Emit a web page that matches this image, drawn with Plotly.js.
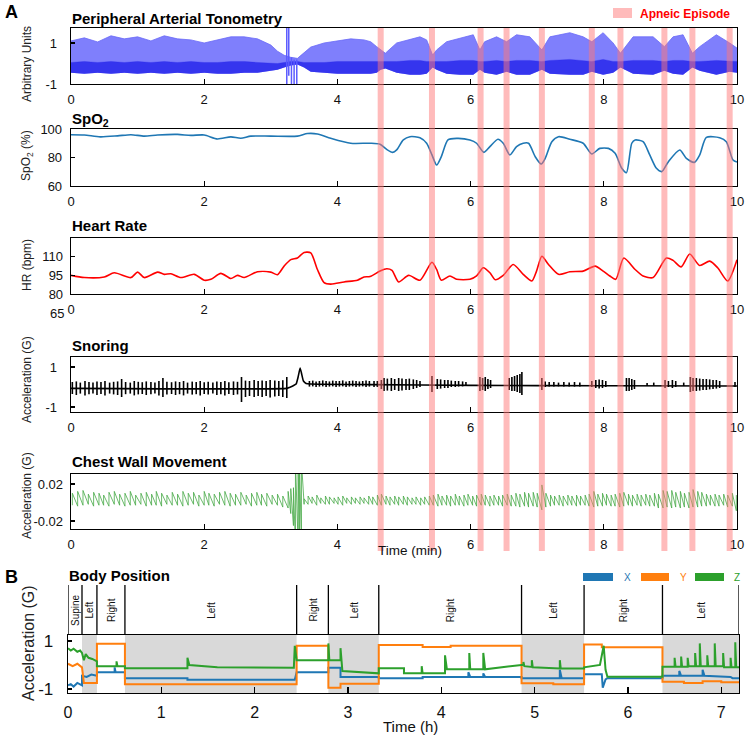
<!DOCTYPE html>
<html><head><meta charset="utf-8">
<script src="https://cdn.plot.ly/plotly-3.0.1.min.js"></script>
<style>html,body{margin:0;padding:0;background:#fff}#c{width:745px;height:736px}</style>
</head><body><div id="c"></div>
<script>
// ---------------- DATA ----------------
// Peripheral Arterial Tonometry: upper envelope, top of dense core, lower envelope (arbitrary units) vs time (min)
const patT  = [0,0.2,0.4,0.6,0.8,1.0,1.2,1.4,1.6,1.8,2.0,2.2,2.4,2.6,2.8,3.0,3.1,3.2,3.3,3.4,3.5,3.6,3.8,4.0,4.2,4.4,4.5,4.59,4.65,4.72,4.89,5.09,5.24,5.34,5.43,5.49,5.64,5.84,6.04,6.14,6.21,6.39,6.54,6.69,6.89,7.07,7.19,7.49,7.69,7.82,7.99,8.14,8.25,8.44,8.74,8.91,9.04,9.19,9.33,9.44,9.69,9.89,10];
const patHi = [1.1,1.25,1.05,1.35,1.2,1.3,1.1,1.35,1.2,1.15,1.0,1.15,1.3,1.3,1.2,0.9,0.6,0.4,0.3,0.25,0.55,0.8,1.0,1.1,1.2,1.15,1.06,0.82,0.66,0.5,1.0,1.18,1.3,1.15,0.41,0.66,1.06,1.23,1.4,0.66,1.06,1.3,1.06,1.4,1.3,0.66,1.3,1.5,1.3,1.06,1.5,1.0,0.5,1.3,1.3,0.82,1.3,1.4,0.5,0.82,1.4,1.0,0.75];
const patMid = [0.05,0.1,0.05,0.1,0.05,0.1,0.05,0.1,0.05,0.1,0.05,0.05,0.1,0.1,0.05,0.0,0.0,0.05,0.1,0.1,0.05,0.05,0.05,0.1,0.1,0.1,0.1,0.1,0.1,0.1,0.1,0.15,0.15,0.1,0.1,0.1,0.1,0.15,0.15,0.1,0.1,0.15,0.1,0.15,0.15,0.1,0.15,0.2,0.15,0.1,0.2,0.1,0.1,0.15,0.15,0.1,0.15,0.15,0.1,0.1,0.15,0.1,0.1];
const patLo = [-0.45,-0.5,-0.45,-0.5,-0.45,-0.5,-0.45,-0.5,-0.45,-0.5,-0.45,-0.5,-0.5,-0.45,-0.45,-0.35,-0.3,-0.2,-0.1,-0.05,-0.2,-0.4,-0.45,-0.5,-0.5,-0.5,-0.5,-0.45,-0.3,-0.25,-0.45,-0.55,-0.55,-0.5,-0.2,-0.3,-0.5,-0.55,-0.55,-0.3,-0.45,-0.55,-0.4,-0.55,-0.55,-0.3,-0.5,-0.55,-0.55,-0.4,-0.55,-0.45,-0.2,-0.5,-0.55,-0.35,-0.5,-0.55,-0.2,-0.35,-0.55,-0.4,-0.45];
// PAT movement artefact strokes
const patArtT  = [3.24,3.27,3.31,3.35,3.39];
const patArtHi = [1.8,1.8,0.3,0.2,0.2];
const patArtLo = [-1.3,-0.6,-1.3,-1.3,-1.2];

// SpO2 (%)
const spoT = [0,0.2,0.44,0.7,0.9,1.1,1.3,1.6,1.8,2.0,2.2,2.4,2.55,2.7,3.0,3.4,3.55,3.7,3.9,4.2,4.49,4.64,4.74,4.83,4.89,4.99,5.09,5.24,5.34,5.42,5.49,5.56,5.66,5.79,5.99,6.09,6.20,6.29,6.41,6.49,6.59,6.69,6.79,6.87,6.97,7.06,7.12,7.22,7.32,7.49,7.69,7.82,7.94,8.07,8.17,8.27,8.34,8.42,8.47,8.59,8.69,8.79,8.87,8.97,9.14,9.24,9.36,9.44,9.54,9.74,9.84,9.94,10];
const spoV = [96,95.8,94.5,95.2,96,95,95.8,96.2,95.5,95.8,93,94.5,93.5,95,95,95,96.8,96.5,93.5,90,90,89.3,85.7,83.6,85.3,92.3,94.6,93.9,90,81.8,74.7,80.6,92.3,93.4,92.3,90,83.6,87.6,92.8,90,81.8,87.6,90,90,80.6,75.4,79.4,91.1,94.6,92.8,90,82.5,86.4,86.4,82.9,72.4,69.3,90,92.3,91.1,81.8,72.4,70.1,77.1,85.3,79.4,76.6,81.8,94.1,93.9,91.1,78.2,76.8];

// Heart rate (bpm)
const hrT = [0,0.2,0.5,0.65,0.9,1.0,1.1,1.3,1.4,1.5,1.65,1.85,2.0,2.1,2.25,2.4,2.5,2.6,2.8,3.0,3.1,3.2,3.3,3.4,3.5,3.6,3.7,3.8,3.9,4.1,4.3,4.4,4.49,4.64,4.74,4.82,4.92,5.07,5.24,5.42,5.49,5.56,5.69,5.79,5.99,6.09,6.19,6.29,6.37,6.49,6.64,6.79,6.92,6.99,7.07,7.17,7.32,7.49,7.69,7.87,7.99,8.09,8.18,8.30,8.47,8.59,8.74,8.94,9.04,9.16,9.29,9.44,9.59,9.71,9.86,10];
const hrV = [95,93.2,93.7,97.1,93.2,97.6,93.2,97.6,95.8,96.3,93.2,95.8,91.1,91.8,96.6,92.5,95,93.2,97.9,97.6,95.5,102.4,107.6,108.9,113.4,113,99.7,89.2,87.9,89.7,91.1,93.7,94,98.4,100.3,99,89.7,95,91.1,105.5,99.7,91.1,94.5,91.8,91.8,94.5,101.1,97.1,91.5,95,103.7,95.8,90.5,98.4,110.3,103.7,95.8,97.9,98.4,102.4,98.4,94.5,91.8,108.9,99.7,94.5,93.2,108.9,107,101.8,112.1,102.9,106.4,101.1,90.5,107.6];

// Snoring (G): baseline and burst strokes
const snoreBaseT = [0,3.24,3.28,3.33,3.38,3.41,3.44,3.46,3.49,3.53,3.6,4.5,6,8,10];
const snoreBaseV = [-0.07,-0.07,-0.02,0.05,0.15,0.5,0.95,0.7,0.3,0.18,0.15,0.12,0.08,0.06,0.05];
const snoreT  = [0.02,0.08,0.14,0.21,0.27,0.33,0.39,0.45,0.51,0.58,0.64,0.70,0.76,0.82,0.89,0.95,1.01,1.07,1.13,1.20,1.26,1.32,1.38,1.44,1.51,1.57,1.63,1.69,1.75,1.82,1.88,1.94,2.00,2.06,2.13,2.19,2.25,2.31,2.37,2.44,2.50,2.56,2.62,2.68,2.75,2.81,2.87,2.93,2.99,3.06,3.12,3.18,3.24,
  3.58,3.63,3.68,3.73,3.78,3.83,3.88,3.93,3.98,4.03,4.08,4.13,4.18,4.23,4.28,4.33,4.38,4.43,4.48,4.55,4.60,4.66,4.70,4.75,4.81,4.86,4.92,4.97,5.03,5.08,5.14,5.19,5.24,5.42,5.50,5.55,5.61,5.66,5.71,5.77,5.82,5.88,5.93,6.14,6.18,6.22,6.26,6.30,6.58,6.62,6.66,6.70,6.74,6.77,7.07,7.12,7.18,7.25,7.32,7.40,7.48,7.56,7.64,7.82,7.88,7.93,7.98,8.03,8.34,8.38,8.42,8.46,8.65,8.75,8.92,8.97,9.03,9.08,9.20,9.30,9.34,9.39,9.44,9.49,9.54,9.59,9.64,9.69,9.74,9.97];
const snoreHi = [0.25,0.28,0.22,0.3,0.25,0.22,0.28,0.25,0.3,0.22,0.26,0.28,0.4,0.25,0.22,0.3,0.26,0.24,0.28,0.25,0.22,0.3,0.45,0.26,0.24,0.28,0.25,0.3,0.22,0.27,0.25,0.3,0.24,0.26,0.22,0.28,0.25,0.3,0.24,0.28,0.26,0.5,0.32,0.3,0.35,0.3,0.33,0.3,0.35,0.32,0.3,0.34,0.5,
  0.3,0.32,0.28,0.3,0.33,0.3,0.28,0.32,0.3,0.3,0.33,0.28,0.3,0.32,0.3,0.28,0.3,0.32,0.3,0.3,0.3,0.35,0.45,0.42,0.45,0.4,0.45,0.42,0.4,0.42,0.38,0.35,0.3,0.55,0.4,0.38,0.35,0.35,0.32,0.3,0.3,0.28,0.25,0.5,0.45,0.5,0.4,0.35,0.45,0.5,0.55,0.6,0.65,0.75,0.45,0.28,0.25,0.25,0.22,0.25,0.22,0.25,0.22,0.3,0.35,0.38,0.35,0.3,0.45,0.45,0.4,0.35,0.2,0.22,0.35,0.3,0.35,0.3,0.22,0.5,0.45,0.45,0.42,0.4,0.4,0.38,0.35,0.35,0.3,0.25];
const snoreLo = [-0.35,-0.4,-0.33,-0.42,-0.36,-0.33,-0.4,-0.35,-0.42,-0.33,-0.37,-0.4,-0.5,-0.36,-0.33,-0.42,-0.37,-0.35,-0.4,-0.36,-0.33,-0.42,-0.5,-0.37,-0.35,-0.4,-0.36,-0.42,-0.33,-0.38,-0.36,-0.42,-0.35,-0.37,-0.33,-0.4,-0.36,-0.42,-0.35,-0.4,-0.37,-0.75,-0.5,-0.45,-0.5,-0.45,-0.5,-0.45,-0.52,-0.48,-0.45,-0.5,-0.55,
  0.02,0.03,0.0,0.02,0.03,0.0,0.02,0.03,0.0,0.02,0.03,0.0,0.02,0.03,0.0,0.02,0.03,0.0,0.02,0.0,0.0,-0.1,-0.2,-0.18,-0.2,-0.15,-0.2,-0.18,-0.15,-0.15,-0.1,-0.05,0.0,-0.25,-0.1,-0.08,-0.05,-0.05,0,0,0.02,0.03,0.05,-0.2,-0.15,-0.2,-0.1,-0.05,-0.15,-0.2,-0.2,-0.25,-0.3,-0.4,-0.15,0.0,0.02,0.02,0.03,0.02,0.03,0.02,0.03,0.0,-0.05,-0.08,-0.05,0.0,-0.2,-0.2,-0.15,-0.1,0.05,0.05,-0.05,0,-0.05,0,0.05,-0.25,-0.2,-0.2,-0.18,-0.15,-0.15,-0.12,-0.1,-0.08,-0.05,0.0];

// Chest wall movement (G): per-breath peak / trough
const chestT = [0.02,0.10,0.18,0.26,0.34,0.42,0.49,0.57,0.65,0.73,0.81,0.89,0.97,1.05,1.13,1.21,1.28,1.36,1.44,1.52,1.60,1.68,1.76,1.84,1.92,2.00,2.07,2.15,2.23,2.31,2.39,2.47,2.55,2.63,2.71,2.79,2.86,2.94,3.02,3.10,3.18,3.26,
  3.30,3.34,3.37,3.41,3.43,3.46,3.50,
  3.56,3.62,3.69,3.75,3.82,3.88,3.95,4.01,4.08,4.14,4.21,4.27,4.34,4.40,4.47,
  4.53,4.60,4.66,4.73,4.79,4.86,4.92,4.99,5.05,5.12,5.18,5.25,5.31,5.38,5.44,5.51,5.57,5.64,5.70,5.77,5.83,5.90,5.96,6.03,6.09,6.16,6.22,6.29,6.35,6.42,6.48,6.55,6.61,6.68,6.74,6.81,6.87,6.94,7.00,7.07,7.13,7.20,7.26,7.33,7.39,7.46,7.52,7.59,7.65,7.72,7.78,7.85,7.91,7.98,8.04,8.11,8.17,8.24,8.30,8.37,8.43,8.50,8.56,8.63,8.69,8.76,8.82,8.89,8.95,9.02,9.08,9.15,9.21,9.28,9.34,9.41,9.47,9.54,9.60,9.67,9.73,9.80,9.86,9.93,9.99];
const chestHi = [0.010,0.012,0.013,0.009,0.011,0.010,0.008,0.011,0.012,0.009,0.010,0.012,0.008,0.010,0.011,0.009,0.012,0.010,0.008,0.011,0.009,0.012,0.010,0.011,0.008,0.012,0.010,0.009,0.011,0.012,0.010,0.009,0.011,0.008,0.010,0.011,0.009,0.010,0.008,0.009,0.007,0.012,
  0.015,0.016,0.045,0.045,0.045,0.045,0.004,
  0.007,0.006,0.008,0.005,0.007,0.006,0.005,0.006,0.007,0.005,0.006,0.005,0.006,0.005,0.007,
  0.006,0.008,0.009,0.007,0.006,0.007,0.006,0.007,0.006,0.005,0.006,0.005,0.006,0.007,0.008,0.009,0.007,0.008,0.007,0.009,0.007,0.008,0.009,0.007,0.008,0.009,0.008,0.007,0.008,0.007,0.008,0.009,0.008,0.010,0.009,0.011,0.010,0.011,0.010,0.019,0.010,0.008,0.007,0.008,0.007,0.008,0.007,0.008,0.007,0.008,0.009,0.012,0.009,0.010,0.009,0.008,0.009,0.010,0.011,0.009,0.008,0.009,0.008,0.009,0.008,0.010,0.009,0.013,0.012,0.013,0.011,0.012,0.010,0.011,0.014,0.012,0.011,0.009,0.008,0.009,0.008,0.009,0.008,0.010,0.008];
const chestLo = [-0.003,-0.004,-0.003,-0.002,-0.004,-0.003,-0.003,-0.004,-0.002,-0.003,-0.004,-0.003,-0.003,-0.002,-0.004,-0.003,-0.003,-0.004,-0.002,-0.003,-0.003,-0.004,-0.003,-0.002,-0.004,-0.003,-0.003,-0.004,-0.002,-0.003,-0.004,-0.003,-0.003,-0.002,-0.004,-0.003,-0.003,-0.004,-0.002,-0.003,-0.005,-0.006,
  -0.012,-0.025,-0.045,-0.045,-0.045,-0.045,-0.002,
  -0.002,-0.001,-0.003,-0.001,-0.002,-0.002,-0.001,-0.002,-0.003,-0.001,-0.002,-0.001,-0.002,-0.001,-0.002,
  -0.002,-0.003,-0.003,-0.002,-0.003,-0.002,-0.003,-0.002,-0.003,-0.002,-0.002,-0.003,-0.002,-0.003,-0.003,-0.004,-0.003,-0.003,-0.004,-0.003,-0.003,-0.004,-0.003,-0.003,-0.004,-0.003,-0.003,-0.004,-0.003,-0.003,-0.004,-0.003,-0.004,-0.004,-0.005,-0.004,-0.005,-0.004,-0.005,-0.008,-0.005,-0.004,-0.003,-0.003,-0.004,-0.003,-0.003,-0.004,-0.003,-0.003,-0.004,-0.005,-0.004,-0.004,-0.003,-0.004,-0.004,-0.005,-0.004,-0.003,-0.004,-0.003,-0.004,-0.003,-0.004,-0.004,-0.006,-0.006,-0.005,-0.006,-0.005,-0.006,-0.005,-0.006,-0.005,-0.005,-0.004,-0.004,-0.003,-0.004,-0.004,-0.003,-0.005,-0.004,-0.009];

// Apneic episodes (centre time, min)
const apneaT = [4.65,5.42,6.15,6.54,7.07,7.82,8.25,8.91,9.33,9.89];
const apneaHalfWidth = 0.045;

// Body position (time in hours, acceleration in G)
const bxT = [0,0.03,0.06,0.1,0.15,0.15,0.2,0.25,0.31,0.31,0.5,0.5,0.51,0.61,0.61,1.28,1.28,2.43,2.45,2.79,2.79,2.92,2.92,3.33,3.33,3.8,3.8,4.29,4.29,4.31,4.45,4.45,4.47,4.86,4.86,5.27,5.27,5.29,5.53,5.53,5.72,5.73,5.76,5.78,6.37,6.37,6.55,6.55,6.57,6.8,6.8,6.82,7.1,7.12,7.19];
const bxV = [-0.85,-0.8,-0.9,-0.75,-0.85,-0.45,-0.5,-0.4,-0.45,-0.3,-0.3,-0.1,-0.3,-0.3,-0.55,-0.55,-0.62,-0.62,-0.3,-0.3,-0.12,-0.12,-0.5,-0.5,-0.55,-0.55,-0.5,-0.5,-0.3,-0.5,-0.5,-0.35,-0.5,-0.5,-0.55,-0.55,-0.2,-0.55,-0.55,-0.39,-0.39,-0.95,-0.6,-0.55,-0.55,-0.45,-0.45,-0.25,-0.45,-0.45,-0.2,-0.45,-0.5,-0.55,-0.55];
const byT = [0,0.05,0.1,0.15,0.17,0.31,0.31,0.61,0.61,2.45,2.45,2.79,2.79,2.92,2.92,3.33,3.33,3.8,3.8,4.1,4.1,4.86,4.86,5.2,5.2,5.53,5.53,5.72,5.72,6.37,6.37,6.6,6.6,6.8,6.8,7.0,7.0,7.19];
const byV = [0.05,-0.05,0.05,-0.1,-0.75,-0.75,0.88,0.88,-0.8,-0.8,0.8,0.8,-0.95,-0.95,-0.78,-0.78,0.83,0.83,0.75,0.75,0.8,0.8,-0.76,-0.76,-0.8,-0.8,0.85,0.85,0.74,0.74,-0.7,-0.7,-0.75,-0.75,-0.68,-0.68,-0.72,-0.72];
const bzT = [0,0.03,0.06,0.1,0.13,0.15,0.17,0.19,0.22,0.26,0.31,0.31,0.52,0.52,0.53,0.61,0.61,1.28,1.28,1.3,1.6,2.42,2.43,2.45,2.79,2.79,2.8,2.92,2.92,2.94,3.33,3.33,3.6,3.6,3.79,3.79,3.8,4.04,4.04,4.06,4.3,4.3,4.31,4.45,4.45,4.47,4.86,4.88,4.88,4.89,4.97,4.97,4.98,5.27,5.27,5.28,5.53,5.53,5.7,5.74,5.76,5.78,6.37,6.37,6.5,6.5,6.51,6.57,6.57,6.58,6.64,6.64,6.65,6.72,6.72,6.73,6.77,6.77,6.78,6.85,6.85,6.86,6.93,6.93,6.94,7.02,7.02,7.03,7.1,7.1,7.11,7.15,7.15,7.16,7.19];
const bzV = [0.7,0.6,0.68,0.55,0.6,0.5,0.2,0.45,0.3,0.25,0.15,-0.05,-0.05,0.15,-0.05,-0.05,-0.14,-0.14,0.3,0.0,-0.1,-0.12,0.8,0.2,0.2,0.9,0.2,0.2,0.7,-0.25,-0.35,-0.14,-0.14,-0.35,-0.35,-0.05,-0.35,-0.35,0.4,-0.18,-0.18,0.5,-0.18,-0.18,0.5,-0.18,0.0,0.0,0.12,-0.05,-0.08,0.2,-0.1,-0.15,0.2,-0.15,-0.15,-0.1,0.0,0.8,-0.2,-0.49,-0.49,-0.07,-0.07,0.3,-0.07,-0.07,0.35,-0.07,-0.07,0.3,-0.05,-0.05,0.5,-0.05,-0.05,0.9,-0.05,-0.05,0.4,-0.05,-0.05,0.9,-0.05,-0.05,0.5,-0.1,-0.1,0.3,-0.1,-0.1,0.95,-0.1,-0.1];
// Position segments (h)
const posStart = [0,0.15,0.31,0.61,2.45,2.79,3.33,4.86,5.53,6.37];
const posEnd   = [0.15,0.31,0.61,2.45,2.79,3.33,4.86,5.53,6.37,7.19];
const posName  = ["Supine","Left","Right","Left","Right","Left","Right","Left","Right","Left"];

const ticksMin = [0,2,4,6,8,10];
const ticksHour = [0,1,2,3,4,5,6,7];

// ---------------- DRAWING ----------------
const F = "Liberation Sans, Arial, Helvetica, sans-serif";
const W = 745, H = 736;
const px = x => x / W, py = y => 1 - y / H;

function strokes(t, lo, hi) {
  const x = [], y = [];
  const n = Math.min(t.length, lo.length, hi.length);
  for (let i = 0; i < n; i++) { x.push(t[i], t[i], null); y.push(lo[i], hi[i], null); }
  return {x, y};
}
function sawtooth(t, lo, hi) {
  const x = [], y = [];
  const n = Math.min(t.length, lo.length, hi.length);
  for (let i = 0; i < n; i++) { x.push(t[i], t[i]); y.push(lo[i], hi[i]); }
  return {x, y};
}

const traces = [];
// PAT
traces.push({x: patT, y: patLo, xaxis: 'x', yaxis: 'y', mode: 'lines', line: {color: 'rgba(0,0,0,0)', width: 0}, hoverinfo: 'skip'});
traces.push({x: patT, y: patHi, xaxis: 'x', yaxis: 'y', mode: 'lines', fill: 'tonexty', fillcolor: 'rgba(105,105,252,0.85)', line: {color: '#6a6af8', width: 0.8}});
traces.push({x: patT, y: patLo, xaxis: 'x', yaxis: 'y', mode: 'lines', line: {color: 'rgba(0,0,0,0)', width: 0}, hoverinfo: 'skip'});
traces.push({x: patT, y: patMid, xaxis: 'x', yaxis: 'y', mode: 'lines', fill: 'tonexty', fillcolor: 'rgba(40,40,235,0.85)', line: {color: 'rgba(40,40,235,0.5)', width: 0.6}});
const art = strokes(patArtT, patArtLo, patArtHi);
traces.push({x: art.x, y: art.y, xaxis: 'x', yaxis: 'y', mode: 'lines', line: {color: '#5a5aff', width: 1.5}});
// SpO2
traces.push({x: spoT, y: spoV, xaxis: 'x2', yaxis: 'y2', mode: 'lines', line: {color: '#1f77b4', width: 1.6, shape: 'spline', smoothing: 0.7}});
// HR
traces.push({x: hrT, y: hrV, xaxis: 'x3', yaxis: 'y3', mode: 'lines', line: {color: '#ff0000', width: 1.6, shape: 'spline', smoothing: 0.7}});
// Snoring
traces.push({x: snoreBaseT, y: snoreBaseV, xaxis: 'x4', yaxis: 'y4', mode: 'lines', line: {color: '#000', width: 1.6, shape: 'spline', smoothing: 0.4}});
const sn = strokes(snoreT, snoreLo, snoreHi);
traces.push({x: sn.x, y: sn.y, xaxis: 'x4', yaxis: 'y4', mode: 'lines', line: {color: '#000', width: 1.6}});
// Chest wall
const cw = sawtooth(chestT, chestLo, chestHi);
traces.push({x: cw.x, y: cw.y, xaxis: 'x5', yaxis: 'y5', mode: 'lines', line: {color: '#45a845', width: 0.8}});
// Body position
traces.push({x: bxT, y: bxV, xaxis: 'x6', yaxis: 'y6', mode: 'lines', line: {color: '#1f77b4', width: 2}});
traces.push({x: byT, y: byV, xaxis: 'x6', yaxis: 'y6', mode: 'lines', line: {color: '#ff7f0e', width: 2}});
traces.push({x: bzT, y: bzV, xaxis: 'x6', yaxis: 'y6', mode: 'lines', line: {color: '#2ca02c', width: 2}});

function xax(dom, range, anchor, tv, size, standoff, tl) {
  return {domain: dom, range: range, anchor: anchor, tickvals: tv, ticktext: tv.map(String),
    ticks: 'inside', ticklen: tl, tickwidth: 1.3, tickcolor: '#000', showline: true, mirror: true,
    linecolor: '#000', linewidth: 1.3, showgrid: false, zeroline: false, fixedrange: true,
    tickfont: {family: F, size: size, color: '#111'}, ticklabelstandoff: standoff};
}
function yax(dom, range, anchor, tv, tt, size, standoff) {
  return {domain: dom, range: range, anchor: anchor, tickvals: tv, ticktext: tt,
    ticks: 'inside', ticklen: 4, tickwidth: 1.3, tickcolor: '#000', showline: true, mirror: true,
    linecolor: '#000', linewidth: 1.3, showgrid: false, zeroline: false, fixedrange: true,
    tickfont: {family: F, size: size, color: '#111'}, ticklabelstandoff: standoff};
}
const domA = [px(71), px(737)], domB = [px(68), px(739)];

const layout = {
  width: W, height: H, margin: {l: 0, r: 0, t: 0, b: 0},
  paper_bgcolor: '#fff', plot_bgcolor: 'rgba(0,0,0,0)', showlegend: false,
  font: {family: F, color: '#111'},
  xaxis:  xax(domA, [0, 10], 'y',  ticksMin, 13, 3, 5),
  xaxis2: xax(domA, [0, 10], 'y2', ticksMin, 13, 3, 5),
  xaxis3: xax(domA, [0, 10], 'y3', ticksMin, 13, 3, 5),
  xaxis4: xax(domA, [0, 10], 'y4', ticksMin, 13, 3, 5),
  xaxis5: xax(domA, [0, 10], 'y5', ticksMin, 13, 3, 5),
  xaxis6: xax(domB, [0, 7.19], 'y6', ticksHour, 16, 4, 6),
  yaxis:  yax([py(84), py(28)], [-1, 1.73], 'x', [-1, 1], ['-1', '1'], 13, 10),
  yaxis2: yax([py(186), py(129)], [60, 100], 'x2', [60, 80, 100], ['60', '80', '100'], 13, 5),
  yaxis3: yax([py(294), py(238)], [80, 125], 'x3', [80, 95, 110], ['80', '95', '110'], 13, 4),
  yaxis4: yax([py(412), py(357)], [-1.25, 1.5], 'x4', [-1, 1], ['-1', '1'], 13, 10),
  yaxis5: yax([py(529), py(474)], [-0.0287, 0.0308], 'x5', [-0.02, 0.02], ['-0.02', '0.02'], 13, 4),
  yaxis6: yax([py(693), py(635)], [-1.17, 1.25], 'x6', [-1, 1], ['-1', '1'], 17, 10),
  shapes: [], annotations: []
};

// apneic bands
apneaT.forEach(t => layout.shapes.push({type: 'rect', xref: 'x', yref: 'paper',
  x0: t - apneaHalfWidth, x1: t + apneaHalfWidth, y0: py(551), y1: py(28),
  fillcolor: 'rgba(255,120,120,0.5)', line: {width: 0}, layer: 'above'}));
// legend swatch for apneic episode
layout.shapes.push({type: 'rect', xref: 'paper', yref: 'paper', x0: px(613), x1: px(632), y0: py(18), y1: py(8),
  fillcolor: 'rgba(255,120,120,0.5)', line: {width: 0}});
// body-position shading for "Left" segments
posName.forEach((n, i) => {
  if (n === 'Left') layout.shapes.push({type: 'rect', xref: 'x6', yref: 'y6', x0: posStart[i], x1: posEnd[i],
    y0: -1.17, y1: 1.25, fillcolor: '#d9d9d9', line: {width: 0}, layer: 'below'});
});
// segment separators above panel B
posStart.concat([posEnd[posEnd.length - 1]]).forEach(t => layout.shapes.push({type: 'line', xref: 'x6', yref: 'paper',
  x0: t, x1: t, y0: py(635), y1: py(585), line: {color: '#000', width: 1.3}}));
// XYZ legend swatches
[[583, 613, '#1f77b4'], [641, 669, '#ff7f0e'], [695, 724, '#2ca02c']].forEach(s => layout.shapes.push({type: 'rect',
  xref: 'paper', yref: 'paper', x0: px(s[0]), x1: px(s[1]), y0: py(581), y1: py(573), fillcolor: s[2], line: {width: 0}}));

function ann(text, x, y, o) {
  layout.annotations.push(Object.assign({text: text, xref: 'paper', yref: 'paper', x: px(x), y: py(y),
    showarrow: false, xanchor: 'left', yanchor: 'middle', font: {family: F, size: 13, color: '#111'}}, o || {}));
}
const bold = s => '<b>' + s + '</b>';
ann(bold('A'), 3, 12, {font: {family: F, size: 18, color: '#000'}});
ann(bold('Peripheral Arterial Tonometry'), 70, 18, {font: {family: F, size: 15, color: '#000'}});
ann(bold('Apneic Episode'), 638, 14, {font: {family: F, size: 12, color: '#ff0000'}});
ann(bold('SpO<sub>2</sub>'), 70, 119, {font: {family: F, size: 15, color: '#000'}});
ann(bold('Heart Rate'), 70, 226, {font: {family: F, size: 15, color: '#000'}});
ann(bold('Snoring'), 70, 345, {font: {family: F, size: 15, color: '#000'}});
ann(bold('Chest Wall Movement'), 70, 462, {font: {family: F, size: 15, color: '#000'}});
ann('Time (min)', 410, 550, {xanchor: 'center', font: {family: F, size: 13.5, color: '#111'}});
ann('65', 66, 313, {xanchor: 'right'});
ann('Arbitrary Units', 27, 64, {xanchor: 'center', textangle: -90, font: {family: F, size: 12, color: '#222'}});
ann('SpO<sub>2</sub> (%)', 27, 156, {xanchor: 'center', textangle: -90, font: {family: F, size: 12, color: '#222'}});
ann('HR (bpm)', 27, 265, {xanchor: 'center', textangle: -90, font: {family: F, size: 12, color: '#222'}});
ann('Acceleration (G)', 27, 380, {xanchor: 'center', textangle: -90, font: {family: F, size: 12, color: '#222'}});
ann('Acceleration (G)', 27, 496, {xanchor: 'center', textangle: -90, font: {family: F, size: 12, color: '#222'}});
ann(bold('B'), 3, 577, {font: {family: F, size: 18, color: '#000'}});
ann(bold('Body Position'), 67, 575, {font: {family: F, size: 15, color: '#000'}});
ann('Acceleration (G)', 28, 643, {xanchor: 'center', textangle: -90, font: {family: F, size: 16, color: '#222'}});
ann('Time (h)', 411, 726, {xanchor: 'center', font: {family: F, size: 15, color: '#111'}});
ann('X', 627, 577, {xanchor: 'center', font: {family: F, size: 10, color: '#1f77b4'}});
ann('Y', 683, 577, {xanchor: 'center', font: {family: F, size: 10, color: '#ff7f0e'}});
ann('Z', 737, 577, {xanchor: 'center', font: {family: F, size: 10, color: '#2ca02c'}});
posName.forEach((n, i) => layout.annotations.push({text: n, xref: 'x6', yref: 'paper',
  x: (posStart[i] + posEnd[i]) / 2, y: py(610), showarrow: false, textangle: -90,
  xanchor: 'center', yanchor: 'middle', font: {family: F, size: 10, color: '#111'}}));

Plotly.newPlot('c', traces, layout, {staticPlot: true, displayModeBar: false});
</script></body></html>
